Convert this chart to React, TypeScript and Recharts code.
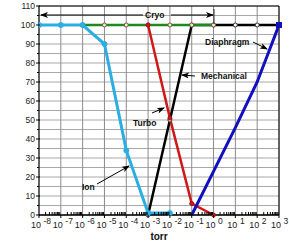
import { LineChart, Line, XAxis, YAxis, CartesianGrid, ReferenceLine } from "recharts"

// x values are log10(torr)
const ionX = [-8, -7, -6, -5, -4, -3, -2]
const ionY = [100, 100, 100, 90, 34, 1, 1]
const turboX = [-3, -2, -1, 0]
const turboY = [100, 51, 6, 0]
const mechX = [-3, -2, -1, 0, 1, 2, 3]
const mechY = [0, 50, 100, 100, 100, 100, 100]
const cryoX = [-6, -5, -4, -3, -2, -1, 0]
const cryoY = [100, 100, 100, 100, 100, 100, 100]
const diaX = [-1, 0, 1, 2, 3]
const diaY = [0, 23, 46, 70, 100]

const decades = [-8, -7, -6, -5, -4, -3, -2, -1, 0, 1, 2, 3]
const yTicks = [0, 5, 10, 15, 20, 25, 30, 35, 40, 45, 50, 55, 60, 65, 70, 75, 80, 85, 90, 95, 100, 105, 110]

const minorX: number[] = []
decades.slice(0, -1).forEach((d) => {
  for (let k = 2; k <= 9; k++) minorX.push(d + Math.log10(k))
})
const xTicks = [...decades, ...minorX].sort((a, b) => a - b)

const pts = (xs: number[], ys: number[]) => xs.map((x, i) => ({ x, y: ys[i] }))

const font = "Arial, 'Liberation Sans', sans-serif"

function XTick({ x, y, payload }: any) {
  const v = payload.value
  const major = decades.some((d) => Math.abs(d - v) < 1e-9)
  if (!major) {
    return <line x1={x} x2={x} y1={y} y2={y - 3} stroke="#000" strokeWidth={1} />
  }
  return (
    <g>
      <line x1={x} x2={x} y1={y} y2={y + 3} stroke="#000" strokeWidth={1} />
      <text x={x - 8} y={y + 13} fontSize={9} fontFamily={font} fill="#222">
        10
        <tspan dx={2.5} dy={-4} fontSize={8.5}>{v}</tspan>
      </text>
    </g>
  )
}

function YTick({ x, y, payload }: any) {
  const v = payload.value
  if (v % 10 !== 0) {
    return <line x1={x} x2={x - 2} y1={y} y2={y} stroke="#000" strokeWidth={1} />
  }
  return (
    <g>
      <line x1={x + 1} x2={x - 3} y1={y} y2={y} stroke="#000" strokeWidth={1} />
      <text x={x - 4} y={y + 3} textAnchor="end" fontSize={8.5} fontFamily={font} fill="#222">
        {v}
      </text>
    </g>
  )
}

const ann = { fontSize: 8.5, fontWeight: 700, fontFamily: font, fill: "#111" }

export default function App() {
  return (
    <div style={{ position: "absolute", left: 0, top: 0, width: 289, height: 251, background: "#fff" }}>
      <LineChart width={289} height={251} margin={{ top: 6, right: 10, bottom: 0, left: 0 }}>
        <CartesianGrid vertical={false} stroke="#a8a8a8" strokeWidth={1} />
        {decades.map((d) => (
          <ReferenceLine key={d} x={d} stroke="#8c8c8c" strokeWidth={1} />
        ))}
        <ReferenceLine y={110} stroke="#000" strokeWidth={1} />
        <ReferenceLine x={3} stroke="#000" strokeWidth={1} />
        <XAxis
          type="number"
          dataKey="x"
          domain={[-8, 3]}
          ticks={xTicks}
          interval={0}
          tickSize={0}
          tickMargin={0}
          tickLine={false}
          axisLine={{ stroke: "#000", strokeWidth: 1.5 }}
          tick={<XTick />}
          height={36}
          allowDataOverflow
          label={{ value: "torr", position: "insideBottom", offset: 11, style: { fontSize: 10, fontWeight: 700, fontFamily: font, fill: "#111" } }}
        />
        <YAxis
          type="number"
          domain={[0, 110]}
          ticks={yTicks}
          interval={0}
          width={39}
          tickSize={0}
          tickMargin={0}
          tickLine={false}
          axisLine={{ stroke: "#000", strokeWidth: 1 }}
          tick={<YTick />}
        />
        <Line
          data={pts(mechX, mechY)}
          dataKey="y"
          stroke="#000"
          strokeWidth={2.5}
          dot={{ r: 2, fill: "#fff", stroke: "#333", strokeWidth: 1 }}
          isAnimationActive={false}
        />
        <Line
          data={pts(cryoX, cryoY)}
          dataKey="y"
          stroke="#1e8a1e"
          strokeWidth={2.5}
          dot={{ r: 2, fill: "#f0ece0", stroke: "#7a5a3a", strokeWidth: 1 }}
          isAnimationActive={false}
        />
        <Line
          data={pts(turboX, turboY)}
          dataKey="y"
          stroke="#d01818"
          strokeWidth={2.5}
          dot={{ r: 2, fill: "#d01818", stroke: "#a01010", strokeWidth: 1 }}
          isAnimationActive={false}
        />
        <Line
          data={pts(ionX, ionY)}
          dataKey="y"
          stroke="#2aaee4"
          strokeWidth={3}
          dot={{ r: 2.5, fill: "#2aaee4", stroke: "#2aaee4", strokeWidth: 1 }}
          isAnimationActive={false}
        />
        <Line
          data={pts(diaX, diaY)}
          dataKey="y"
          stroke="#1010c0"
          strokeWidth={3}
          dot={false}
          isAnimationActive={false}
        />
      </LineChart>
      <svg width={289} height={251} style={{ position: "absolute", left: 0, top: 0, pointerEvents: "none" }}>
        <defs>
          <marker id="ah" markerWidth="8" markerHeight="6" refX="7" refY="3" orient="auto" markerUnits="userSpaceOnUse">
            <path d="M0,0 L8,3 L0,6 L2,3 z" fill="#000" />
          </marker>
        </defs>
        <text transform="translate(-5,105) rotate(-90)" textAnchor="middle" fontSize={9} fontWeight={700} fontFamily={font}>
          Relative Speed (%)
        </text>
        <rect x={276} y={22} width={6} height={6} fill="#1010c0" />
        <line x1={143} y1={15} x2={41} y2={15} stroke="#000" strokeWidth={1} markerEnd="url(#ah)" />
        <text x={145} y={18} {...ann}>Cryo</text>
        <line x1={171} y1={15} x2={213} y2={15} stroke="#000" strokeWidth={1} markerEnd="url(#ah)" />
        <line x1={214} y1={9} x2={214} y2={24} stroke="#333" strokeWidth={1} />
        <text x={205} y={45} {...ann}>Diaphragm</text>
        <line x1={253} y1={42} x2={267} y2={49} stroke="#000" strokeWidth={1} markerEnd="url(#ah)" />
        <text x={201} y={79} {...ann}>Mechanical</text>
        <line x1={195} y1={76} x2={182} y2={75} stroke="#000" strokeWidth={1} markerEnd="url(#ah)" />
        <text x={133} y={126} {...ann}>Turbo</text>
        <line x1={152} y1={113} x2={164} y2={108} stroke="#000" strokeWidth={1} markerEnd="url(#ah)" />
        <text x={82} y={190} {...ann}>Ion</text>
        <line x1={97} y1={184} x2={129} y2={166} stroke="#000" strokeWidth={1} markerEnd="url(#ah)" />
      </svg>
    </div>
  )
}
